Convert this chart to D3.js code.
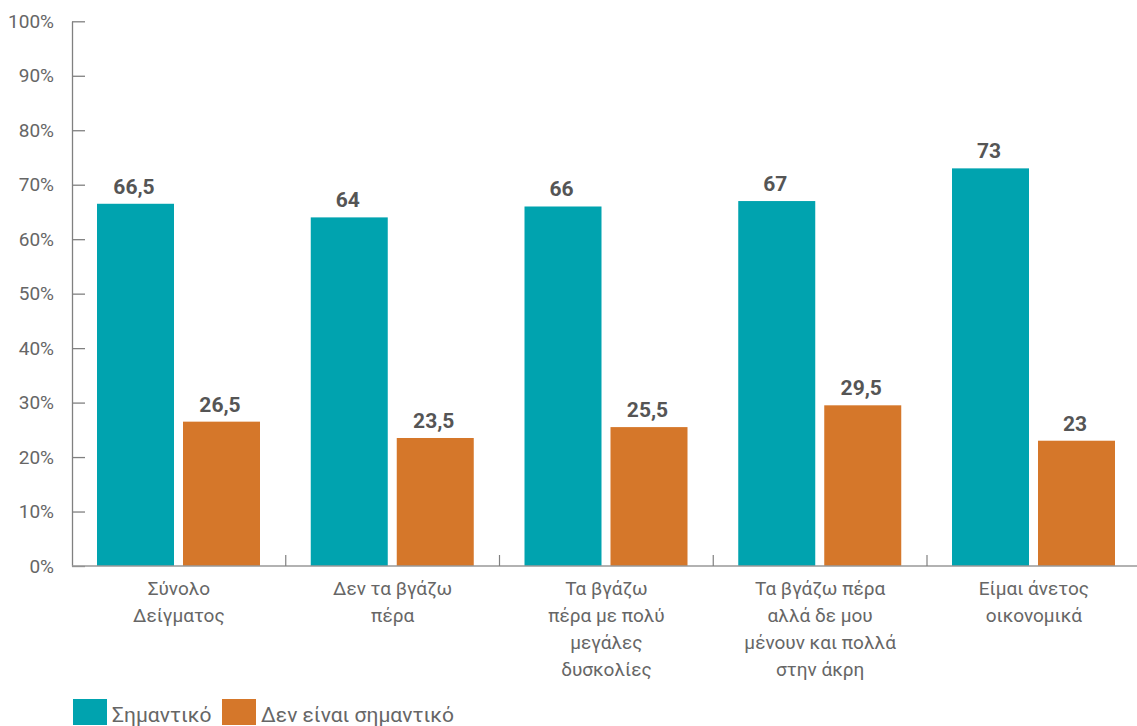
<!DOCTYPE html>
<html>
<head>
<meta charset="utf-8">
<script src="https://cdn.jsdelivr.net/npm/d3@7"></script>
<style>
  html, body { margin: 0; padding: 0; background: #fff; }
  svg { display: block; font-family: Roboto, "Noto Sans", sans-serif; }
</style>
</head>
<body>
<svg id="chart" width="1137" height="726"></svg>
<script>
const categories = [
  ["Σύνολο", "Δείγματος"],
  ["Δεν τα βγάζω", "πέρα"],
  ["Τα βγάζω", "πέρα με πολύ", "μεγάλες", "δυσκολίες"],
  ["Τα βγάζω πέρα", "αλλά δε μου", "μένουν και πολλά", "στην άκρη"],
  ["Είμαι άνετος", "οικονομικά"]
];
const seriesNames = ["Σημαντικό", "Δεν είναι σημαντικό"];
const important = [66.5, 64, 66, 67, 73];
const notImportant = [26.5, 23.5, 25.5, 29.5, 23];
const yTicks = [0, 10, 20, 30, 40, 50, 60, 70, 80, 90, 100];
const colors = ["#00A3AF", "#D5772A"];

const svg = d3.select("#chart");
const mLeft = 72, mRight = 1140.75, mTop = 21.3, mBottom = 566;

const catKeys = categories.map((c, i) => i);
const x0 = d3.scaleBand().domain(catKeys).range([mLeft, mRight]).paddingInner(0).paddingOuter(0);
const x1 = d3.scaleBand().domain([0, 1]).range([25, 188]).paddingInner(9 / 86).paddingOuter(0);
const y = d3.scaleLinear().domain([0, 100]).range([mBottom, mTop]);

const seriesValues = [important, notImportant];
const data = [];
catKeys.forEach(i => seriesValues.forEach((vals, s) => data.push({ c: i, s, v: vals[i] })));

// bars
svg.append("g").selectAll("rect").data(data).join("rect")
  .attr("x", d => x0(d.c) + x1(d.s))
  .attr("width", x1.bandwidth())
  .attr("y", d => y(d.v))
  .attr("height", d => y(0) - y(d.v))
  .attr("fill", d => colors[d.s]);

// value labels
const fmt = v => String(v).replace(".", ",");
svg.append("g").selectAll("text").data(data).join("text")
  .attr("x", d => x0(d.c) + x1(d.s) + x1.bandwidth() / 2 - 1.5)
  .attr("y", d => y(d.v) - 10)
  .attr("text-anchor", "middle")
  .attr("font-size", 21)
  .attr("font-weight", 700)
  .attr("fill", "#555555")
  .text(d => fmt(d.v));

// y axis
const yAxis = d3.axisLeft(y).tickValues(yTicks).tickFormat(d => d + "%")
  .tickSizeInner(-13).tickSizeOuter(0).tickPadding(18);
const gy = svg.append("g").attr("transform", `translate(${mLeft},0)`).call(yAxis);
gy.select(".domain").attr("stroke", "#808080").attr("stroke-width", 1.3);
gy.selectAll(".tick line").attr("stroke", "#808080").attr("stroke-width", 1.3);
gy.selectAll(".tick text").attr("fill", "#666666").attr("font-size", 19)
  .attr("font-family", "Roboto, 'Noto Sans', sans-serif");

// x axis baseline
svg.append("line")
  .attr("x1", mLeft).attr("x2", mRight)
  .attr("y1", y(0)).attr("y2", y(0))
  .attr("stroke", "#999999").attr("stroke-width", 1.3);
// separators
svg.append("g").selectAll("line").data(catKeys.slice(1)).join("line")
  .attr("x1", d => x0(d)).attr("x2", d => x0(d))
  .attr("y1", y(0)).attr("y2", y(0) - 11)
  .attr("stroke", "#808080").attr("stroke-width", 1.2);

// category labels
const cl = svg.append("g").selectAll("text").data(catKeys).join("text")
  .attr("text-anchor", "middle")
  .attr("font-size", 19)
  .attr("fill", "#666666");
cl.each(function (d) {
  const t = d3.select(this);
  categories[d].forEach((line, k) => {
    t.append("tspan")
      .attr("x", x0(d) + x0.bandwidth() / 2)
      .attr("y", 595 + k * 27)
      .text(line);
  });
});

// legend
const lg = svg.append("g");
const legendX = [73, 222];
seriesNames.forEach((name, s) => {
  lg.append("rect").attr("x", legendX[s]).attr("y", 699).attr("width", 34).attr("height", 26)
    .attr("fill", colors[s]);
  lg.append("text").attr("x", legendX[s] + 39).attr("y", 722)
    .attr("font-size", 21).attr("fill", "#666666").text(name);
});
</script>
</body>
</html>
